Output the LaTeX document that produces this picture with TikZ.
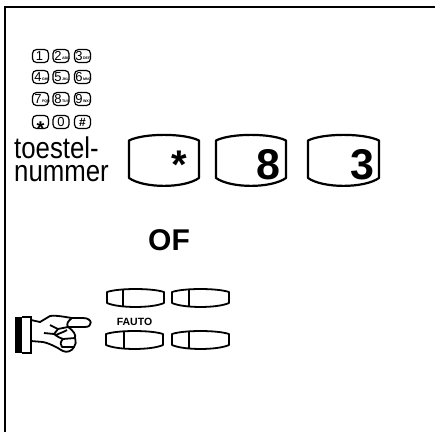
\documentclass[tikz,border=0pt]{standalone}
\usepackage{fontspec}
\setmainfont{Liberation Sans}
\usepackage{xcolor}
\usepackage{tikz}
\usetikzlibrary{positioning,calc}
\tikzset{
  bigkey/.style={font=\fontsize{43}{43}\selectfont\bfseries,inner sep=0pt,anchor=center},
  padkey/.style={font=\fontsize{13}{13}\selectfont,inner sep=0pt,anchor=center},
  padsub/.style={font=\fontsize{3.6}{3.6}\selectfont\bfseries,inner sep=0pt,anchor=west},
  labeltext/.style={font=\fontsize{30}{30}\selectfont,inner sep=0pt,anchor=base west},
}
% keycap with bulged top and bottom: #1 = left x, #2 = right x
\newcommand{\keycap}[2]{%
  \draw[line width=2.2pt,line join=round] (#1,140.5) .. controls (#1+15,133) and (#2-15,133) .. (#2,140.5)
    -- (#2,178) .. controls (#2-15,188.5) and (#1+15,188.5) .. (#1,178) -- cycle;}
% softkey: #1 left, #2 right, #3 divider, #4 top
\newcommand{\softkey}[4]{%
  \draw[line width=1.8pt,line join=round] (#1,#4+3) .. controls (#1+12,#4-1) and (#2-12,#4-1) .. (#2,#4+3)
    -- (#2,#4+14) .. controls (#2-12,#4+19.3) and (#1+12,#4+19.3) .. (#1,#4+14) -- cycle;
  \draw[line width=1.8pt] (#3,#4) -- (#3,#4+18);}
% round pad key: #1 x, #2 y
\newcommand{\padcap}[2]{%
  \draw[line width=1.2pt,rounded corners=4pt] (#1-8,#2-6.5) rectangle (#1+8,#2+6.5);}
\begin{document}
\begin{tikzpicture}[x=1pt,y=-1pt]
  \useasboundingbox (0,0) rectangle (435,432);
  % frame
  \draw[line width=2.4pt] (5,432) -- (5,7) -- (435,7);
  % dial pad
  \padcap{40.5}{56} \padcap{61}{56} \padcap{82.5}{56}
  \padcap{40.5}{77} \padcap{61}{77} \padcap{82.5}{77}
  \padcap{40.5}{99} \padcap{61}{99} \padcap{82.5}{99}
  \padcap{40.5}{122} \padcap{61}{122} \padcap{82.5}{122}
  \node[padkey] (pad1) at (39.5,56) {1};
  \node[padkey] (pad2) at (58,56) {2};
  \node[padsub] (sub2) at (61.8,58.5) {ABC};
  \node[padkey] (pad3) at (79,56) {3};
  \node[padsub] (sub3) at (82.8,58.5) {DEF};
  \node[padkey] (pad4) at (38,77) {4};
  \node[padsub] (sub4) at (41.8,79.5) {GHI};
  \node[padkey] (pad5) at (58,77) {5};
  \node[padsub] (sub5) at (61.8,79.5) {JKL};
  \node[padkey] (pad6) at (79,77) {6};
  \node[padsub] (sub6) at (82.8,79.5) {MNO};
  \node[padkey] (pad7) at (38,99) {7};
  \node[padsub] (sub7) at (41.8,101.5) {PQR};
  \node[padkey] (pad8) at (58,99) {8};
  \node[padsub] (sub8) at (61.8,101.5) {TUV};
  \node[padkey] (pad9) at (79,99) {9};
  \node[padsub] (sub9) at (82.8,101.5) {WXY};
  \node[padkey,font=\fontsize{20}{20}\selectfont\bfseries] (padstar) at (40.5,125) {\raisebox{-7.5pt}[6pt][0pt]{*}};
  \node[padkey] (pad0) at (61,122) {0};
  \node[padkey,font=\fontsize{12}{12}\selectfont\bfseries] (padhash) at (82.5,122) {\#};
  % label
  \node[labeltext] (labela) at (14,158) {\addfontfeature{FakeStretch=0.86}toestel-};
  \node[labeltext] (labelb) at (14,181) {\addfontfeature{FakeStretch=0.86}nummer};
  % big keys
  \keycap{129}{199} \keycap{216}{286} \keycap{308}{379}
  \node[bigkey,font=\fontsize{40}{40}\selectfont\bfseries] (keystar) at (179,165) {*};
  \node[bigkey] (keyeight) at (268,165) {8};
  \node[bigkey] (keythree) at (362,165) {3};
  \node[font=\fontsize{30}{30}\selectfont\bfseries,inner sep=0pt] (of) at (169,240) {OF};
  % soft keys
  \softkey{107}{164}{123}{289}
  \softkey{172}{229}{189}{289}
  \softkey{106}{163}{124}{331}
  \softkey{172}{229}{189}{331}
  \node[font=\fontsize{10.5}{10.5}\selectfont\bfseries,inner sep=0pt] (fauto) at (134.5,322) {FAUTO};
  % hand
  \fill (15,317) rectangle (22,353);
  \draw[line width=1.8pt] (22,317) -- (31,317) -- (31,353) -- (22,353);
  \draw[line width=1.8pt,line join=round] (31,320) -- (40,322) -- (50,316) .. controls (56,315) and (65,317) .. (72,318)
    -- (83,318) .. controls (93,318) and (93,327) .. (85,327) -- (68,327)
    .. controls (74,331) and (76,335) .. (75,338) .. controls (76,342) and (76,345) .. (74,347)
    .. controls (72,351) and (67,353) .. (63,351) .. controls (61,350) and (59,349) .. (58,348)
    .. controls (52,345) and (48,343) .. (43,342) -- (31,341);
  \draw[line width=1.8pt,line join=round] (72,318) .. controls (68,321) and (66,324) .. (68,327)
    (68,327) -- (58,329) -- (50,325) (58,329) -- (54,334) -- (44,333) (54,334) .. controls (58,337) and (60,338) .. (63,339)
    -- (75,338) (63,339) .. controls (60,342) and (60,345) .. (62,347) -- (74,347)
    (56,335) .. controls (60,333) and (64,332) .. (67,330);
\end{tikzpicture}
\end{document}
